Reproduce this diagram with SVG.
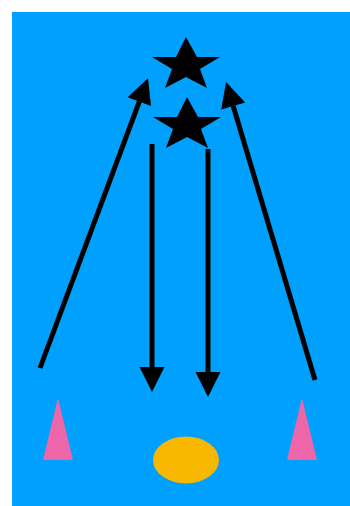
<svg xmlns="http://www.w3.org/2000/svg" width="350" height="506" viewBox="0 0 350 506">
<defs>
<style>
.conn{stroke:#000;stroke-width:5;fill:none;marker-end:url(#ah)}
.star{fill:#000}
.cone{fill:#EE66AA}
</style>
<marker id="ah" markerUnits="userSpaceOnUse" markerWidth="26" markerHeight="26" refX="0" refY="12.5" orient="auto" overflow="visible">
<path d="M0,0 L25,12.5 L0,25 z" fill="#000"/>
</marker>
<polygon id="starShape" points="186,37 197,57 220,57 200,69 207,88 186,77 165,88 172,69 152,57 176,57"/>
</defs>
<rect x="12" y="12" width="338" height="494" fill="#00A0FF"/>
<g id="star1"><use href="#starShape" class="star"/></g>
<g id="star2"><use href="#starShape" class="star" transform="translate(1,60)"/></g>
<g id="cone-left"><polygon class="cone" points="58,398 73,460 43,460"/></g>
<g id="cone-right"><polygon class="cone" points="302,398 317,460 287,460"/></g>
<g id="ball"><ellipse cx="186" cy="460" rx="33" ry="23.5" fill="#F8B800"/></g>
<g id="connectors">
<line class="conn" x1="40" y1="368" x2="139.3" y2="101.6"/>
<line class="conn" x1="315" y1="380" x2="233.2" y2="106"/>
<line class="conn" x1="152" y1="144" x2="152" y2="367"/>
<line class="conn" x1="208" y1="149" x2="208" y2="372"/>
</g>
</svg>
